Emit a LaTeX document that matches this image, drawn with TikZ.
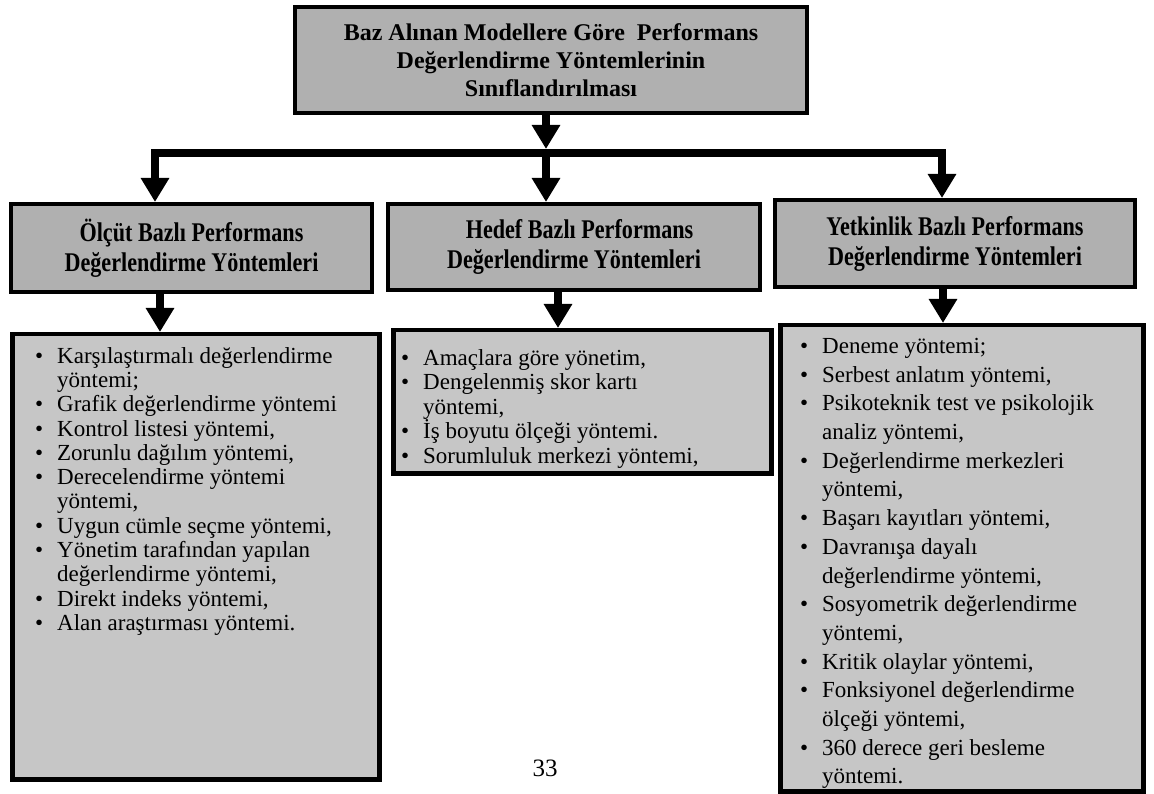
\documentclass[tikz,border=0pt]{standalone}
\usepackage{fontspec}
\setmainfont{Liberation Serif}
\newfontfamily\condbold{Liberation Serif Bold}[FakeStretch=0.82]
\usetikzlibrary{arrows.meta}
\definecolor{headfill}{RGB}{176,176,176}
\definecolor{listfill}{RGB}{198,198,198}
% bullet with a hanging indent, and the indent for continuation lines
\newcommand\bul{\makebox[22pt][l]{\textbullet}}
\newcommand\cont{\hspace*{22pt}}

\begin{document}
\begin{tikzpicture}[x=1pt,y=-1pt,
  frame/.style={draw=black, line width=4pt, inner sep=0pt, anchor=north west},
  headbox/.style={frame, fill=headfill, align=center},
  titlefont/.style={font=\fontsize{24}{28}\selectfont\bfseries},
  subfont/.style={font=\fontsize{27}{30}\condbold},
  listbox/.style={frame, fill=listfill, line width=4.5pt},
  listtext/.style={anchor=north west, inner sep=0pt, align=left},
  shaft/.style={line width=8pt, -{Triangle[width=27pt,length=24pt]}},
  busline/.style={line width=8pt, line cap=butt}
]
\useasboundingbox (0,0) rectangle (1154,794);

% title box
\node[headbox, titlefont, minimum width=512pt, minimum height=106pt] (top) at (293,5)
  {Baz Alınan Modellere Göre\ \ Performans\\Değerlendirme Yöntemlerinin\\Sınıflandırılması};

% distribution bus
\coordinate (busL) at (151,153);
\coordinate (busR) at (946,153);
\coordinate (busC) at (546,153);
\draw[busline] (busL) -- (busR);
\draw[shaft] (top.south -| busC) -- ([yshift=4pt]busC);

% second level boxes
\node[headbox, subfont, minimum width=361pt, minimum height=88pt] (h1) at (9,202)
  {Ölçüt Bazlı Performans\\Değerlendirme Yöntemleri};
\node[headbox, subfont, minimum width=372pt, minimum height=86pt] (h2) at (386,202)
  {\ \ Hedef Bazlı Performans\\Değerlendirme Yöntemleri};
\node[headbox, subfont, minimum width=360pt, minimum height=87pt] (h3) at (773,198)
  {Yetkinlik Bazlı Performans\\Değerlendirme Yöntemleri};

\coordinate (b1) at (155,153);
\coordinate (b3) at (942,153);
\draw[shaft] ([yshift=-3pt]b1) -- (b1 |- h1.north);
\draw[shaft] ([yshift=-3pt]busC) -- (busC |- h2.north);
\draw[shaft] ([yshift=-3pt]b3) -- (b3 |- h3.north);

% list boxes
\node[listbox, minimum width=367pt, minimum height=445pt] (l1) at (10,332) {};
\node[listbox, minimum width=378pt, minimum height=143pt] (l2) at (391,328) {};
\node[listbox, minimum width=363pt, minimum height=466pt] (l3) at (778,323) {};

\coordinate (d1) at (160,0);
\coordinate (d2) at (558,0);
\coordinate (d3) at (943,0);
\draw[shaft] (h1.south -| d1) -- (l1.north -| d1);
\draw[shaft] (h2.south -| d2) -- (l2.north -| d2);
\draw[shaft] (h3.south -| d3) -- (l3.north -| d3);

\node[listtext, font=\fontsize{23}{24.3}\selectfont] (t1) at (35,347) {%
\bul Karşılaştırmalı değerlendirme\\
\cont yöntemi;\\
\bul Grafik değerlendirme yöntemi\\
\bul Kontrol listesi yöntemi,\\
\bul Zorunlu dağılım yöntemi,\\
\bul Derecelendirme yöntemi\\
\cont yöntemi,\\
\bul Uygun cümle seçme yöntemi,\\
\bul Yönetim tarafından yapılan\\
\cont değerlendirme yöntemi,\\
\bul Direkt indeks yöntemi,\\
\bul Alan araştırması yöntemi.};

\node[listtext, font=\fontsize{23}{24.5}\selectfont] (t2) at (401,349) {%
\bul Amaçlara göre yönetim,\\
\bul Dengelenmiş skor kartı\\
\cont yöntemi,\\
\bul İş boyutu ölçeği yöntemi.\\
\bul Sorumluluk merkezi yöntemi,};

\node[listtext, font=\fontsize{23}{28.7}\selectfont] (t3) at (800,338) {%
\bul Deneme yöntemi;\\
\bul Serbest anlatım yöntemi,\\
\bul Psikoteknik test ve psikolojik\\
\cont analiz yöntemi,\\
\bul Değerlendirme merkezleri\\
\cont yöntemi,\\
\bul Başarı kayıtları yöntemi,\\
\bul Davranışa dayalı\\
\cont değerlendirme yöntemi,\\
\bul Sosyometrik değerlendirme\\
\cont yöntemi,\\
\bul Kritik olaylar yöntemi,\\
\bul Fonksiyonel değerlendirme\\
\cont ölçeği yöntemi,\\
\bul 360 derece geri besleme\\
\cont yöntemi.};

% page number
\node[font=\fontsize{25}{30}\selectfont, inner sep=0pt] (page) at (545,768) {33};
\end{tikzpicture}
\end{document}
